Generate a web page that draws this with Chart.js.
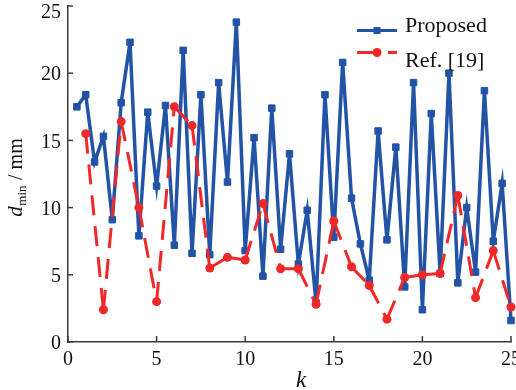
<!DOCTYPE html>
<html lang="en">
<head>
<meta charset="UTF-8">
<title>d_min vs k</title>
<script src="https://cdn.jsdelivr.net/npm/chart.js"></script>
<style>
  html, body { margin: 0; padding: 0; background: #fff; }
</style>
</head>
<body>
<canvas id="grafico" width="516" height="390"></canvas>
<script>
// k positions of each series
var kProposed = [0.5, 1, 1.5, 2, 2.5, 3, 3.5, 4, 4.5, 5, 5.5, 6, 6.5, 7, 7.5, 8, 8.5, 9, 9.5, 10,
                 10.5, 11, 11.5, 12, 12.5, 13, 13.5, 14, 14.5, 15, 15.5, 16, 16.5, 17, 17.5, 18, 18.5, 19, 19.5, 20,
                 20.5, 21, 21.5, 22, 22.5, 23, 23.5, 24, 24.5, 25];
var kRef = [1, 2, 3, 4, 5, 6, 7, 8, 9, 10, 11, 12, 13, 14, 15, 16, 17, 18, 19, 20, 21, 22, 23, 24, 25];

// d_min (mm)
var dProposed = [17.5, 18.4, 13.4, 15.3, 9.1, 17.8, 22.3, 7.9, 17.1, 11.6,
                 17.6, 7.2, 21.7, 6.6, 18.4, 6.5, 19.3, 11.9, 23.8, 6.8,
                 15.2, 4.9, 17.4, 6.9, 14.0, 5.8, 9.8, 2.9, 18.4, 7.8,
                 20.8, 10.7, 7.3, 4.6, 15.7, 7.6, 14.5, 4.1, 19.3, 2.4,
                 17.0, 5.1, 20.0, 4.4, 10.0, 5.2, 18.7, 7.5, 11.8, 1.6];
var dRef = [15.5, 2.4, 16.4, 10.0, 3.0, 17.5, 16.1, 5.5, 6.3, 6.1,
            10.3, 5.45, 5.45, 2.8, 9.0, 5.6, 4.2, 1.7, 4.8, 5.0,
            5.1, 10.9, 3.3, 6.8, 2.6];

var seriesNames = ["Proposed", "Ref. [19]"];
var xTicks = [0, 5, 10, 15, 20, 25];
var yTicks = [0, 5, 10, 15, 20, 25];

var azul = "#2253a5";
var vermelho = "#f02828";
var eixoCor = "#3a3a3a";
var serif = "'Liberation Serif', 'Times New Roman', serif";

function pares(xs, ys) {
    return xs.map(function (x, i) { return { x: x, y: ys[i] }; });
}

// inward ticks, axis titles and the legend
var decoracao = {
    id: "decoracao",
    beforeDraw: function (chart) {
        // keep the top y label ("25") inside the canvas
        var itens = chart.scales.y.getLabelItems(chart.chartArea);
        var topo = itens[itens.length - 1];
        if (topo && !topo._movido) { topo.options.translation[1] += 5; topo._movido = true; }
    },
    afterDraw: function (chart) {
        var ctx = chart.ctx;
        var xs = chart.scales.x, ys = chart.scales.y;
        var area = chart.chartArea;
        ctx.save();
        ctx.strokeStyle = eixoCor;
        ctx.lineWidth = 1.5;
        xTicks.forEach(function (v) {
            var px = xs.getPixelForValue(v);
            ctx.beginPath(); ctx.moveTo(px, area.bottom); ctx.lineTo(px, area.bottom - 6); ctx.stroke();
        });
        yTicks.forEach(function (v) {
            var py = ys.getPixelForValue(v);
            ctx.beginPath(); ctx.moveTo(area.left, py); ctx.lineTo(area.left + 5, py); ctx.stroke();
        });

        // x title
        ctx.fillStyle = "#111";
        ctx.font = "italic 23px " + serif;
        ctx.textAlign = "center";
        ctx.textBaseline = "alphabetic";
        ctx.fillText("k", 301, 387);

        // y title: d_min / mm
        ctx.translate(22, 178);
        ctx.rotate(-Math.PI / 2);
        ctx.textAlign = "left";
        var fD = "italic 21px " + serif, fSub = "13px " + serif, fR = "20px " + serif;
        ctx.font = fD; var wD = ctx.measureText("d").width;
        ctx.font = fSub; var wS = ctx.measureText("min").width;
        ctx.font = fR; var wR = ctx.measureText(" / mm").width;
        var x0 = -(wD + wS + wR) / 2;
        ctx.font = fD; ctx.fillText("d", x0, 0);
        ctx.font = fSub; ctx.fillText("min", x0 + wD + 0.5, 4);
        ctx.font = fR; ctx.fillText(" / mm", x0 + wD + wS + 1, 0);
        ctx.setTransform(1, 0, 0, 1, 0, 0);

        // legend
        ctx.lineWidth = 3;
        ctx.strokeStyle = azul;
        ctx.beginPath(); ctx.moveTo(357, 30.5); ctx.lineTo(397, 30.5); ctx.stroke();
        ctx.fillStyle = azul;
        ctx.fillRect(373.5, 27, 7, 7);
        ctx.strokeStyle = vermelho;
        ctx.setLineDash([24, 7, 9, 100]);
        ctx.beginPath(); ctx.moveTo(357, 52.5); ctx.lineTo(397, 52.5); ctx.stroke();
        ctx.setLineDash([]);
        ctx.fillStyle = vermelho;
        ctx.beginPath(); ctx.arc(377, 52.5, 4.5, 0, Math.PI * 2); ctx.fill();
        ctx.fillStyle = "#111";
        ctx.font = "22px " + serif;
        ctx.fillText(seriesNames[0], 405, 31.5);
        ctx.fillText(seriesNames[1], 405, 66.5);
        ctx.restore();
    }
};

var fonteTicks = { family: serif, size: 20 };

new Chart(document.getElementById("grafico").getContext("2d"), {
    type: "line",
    data: {
        datasets: [{
            label: seriesNames[0],
            data: pares(kProposed, dProposed),
            borderColor: azul,
            backgroundColor: azul,
            borderWidth: 3.5,
            pointStyle: "rect",
            pointRadius: 4.6,
            pointBorderWidth: 1,
            pointBackgroundColor: azul,
            pointBorderColor: azul,
            tension: 0,
            clip: false,
            order: 2
        }, {
            label: seriesNames[1],
            data: pares(kRef, dRef),
            borderColor: vermelho,
            backgroundColor: vermelho,
            borderWidth: 3,
            borderDash: [20, 11],
            // restart the dash on every segment
            segment: { borderDashOffset: function (c) { return c.p0DataIndex % 2 ? 0 : 0.001; } },
            pointStyle: "circle",
            pointRadius: 4.5,
            pointBorderWidth: 0,
            pointBackgroundColor: vermelho,
            tension: 0,
            clip: false,
            order: 1
        }]
    },
    options: {
        responsive: false,
        animation: false,
        devicePixelRatio: 1,
        layout: { autoPadding: false, padding: { top: 6, right: 5, left: 0, bottom: 0 } },
        plugins: { legend: { display: false }, tooltip: { enabled: false } },
        scales: {
            x: {
                type: "linear", min: 0, max: 25,
                grid: { drawOnChartArea: false, drawTicks: false },
                border: { display: true, color: eixoCor, width: 1.5 },
                ticks: { stepSize: 5, padding: 6, color: "#111", font: fonteTicks, maxRotation: 0 },
                afterFit: function (s) { s.height = 48; s.paddingLeft = 0; s.paddingRight = 0; }
            },
            y: {
                min: 0, max: 25,
                grid: { drawOnChartArea: false, drawTicks: false },
                border: { display: true, color: eixoCor, width: 1.5 },
                ticks: { stepSize: 5, padding: 7, labelOffset: 2, color: "#111", font: fonteTicks },
                afterFit: function (s) { s.width = 68; s.paddingTop = 0; s.paddingBottom = 0; }
            }
        }
    },
    plugins: [decoracao]
});
</script>
</body>
</html>
